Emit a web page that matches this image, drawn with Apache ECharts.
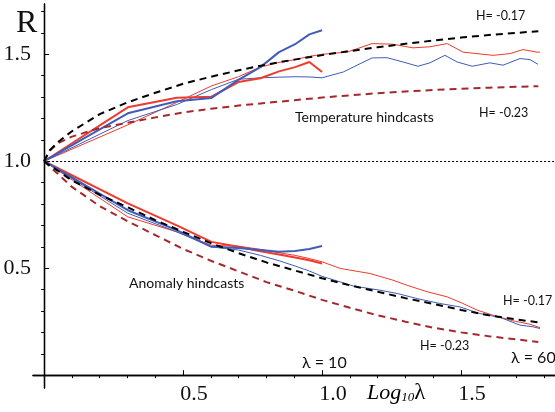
<!DOCTYPE html>
<html>
<head>
<meta charset="utf-8">
<script src="https://cdn.jsdelivr.net/npm/echarts@6/dist/echarts.min.js"></script>
<style>
  html, body { margin: 0; padding: 0; background: #fff; }
  #chart { width: 555px; height: 412px; }
</style>
</head>
<body>
<div id="chart"></div>
<script>
// ticks
var xMajorTicks = [0.5, 1.0, 1.5]
var xMinorTicks = [0.1, 0.2, 0.3, 0.4, 0.6, 0.7, 0.8, 0.9, 1.1, 1.2, 1.3, 1.4, 1.6, 1.7, 1.8]
var yMajorTicks = [0.5, 1.0, 1.5]
var yMinorTicks = [0.1, 0.2, 0.3, 0.4, 0.6, 0.7, 0.8, 0.9, 1.1, 1.2, 1.3, 1.4, 1.6, 1.7]

// lambda = 1..10 (short runs)
var lambdaShort = [1, 2, 3, 4, 5, 6, 7, 8, 9, 10]
var tempThickBlue = [1.0, 1.224, 1.28, 1.296, 1.38, 1.44, 1.51, 1.547, 1.593, 1.612]
var tempThickRed = [1.0, 1.252, 1.297, 1.302, 1.37, 1.388, 1.42, 1.44, 1.464, 1.417]
var anomThickBlue = [1.0, 0.771, 0.678, 0.60, 0.594, 0.585, 0.577, 0.58, 0.59, 0.604]
var anomThickRed = [1.0, 0.803, 0.70, 0.623, 0.60, 0.579, 0.564, 0.55, 0.537, 0.522]

// long runs up to lambda = 60 (x = log10 lambda)
var tempRedX = [0, 0.301, 0.477, 0.602, 0.699, 0.778, 0.845, 0.903, 0.954, 1.0, 1.09, 1.18, 1.255, 1.327, 1.388, 1.45, 1.507, 1.558, 1.615, 1.676, 1.723, 1.773, 1.784]
var tempThinRed = [1.0, 1.17, 1.275, 1.352, 1.395, 1.44, 1.462, 1.475, 1.49, 1.50, 1.51, 1.55, 1.547, 1.53, 1.535, 1.55, 1.51, 1.503, 1.495, 1.503, 1.522, 1.51, 1.51]
var tempBlueX = [0, 0.301, 0.477, 0.602, 0.699, 0.778, 0.845, 0.903, 0.954, 1.0, 1.076, 1.137, 1.18, 1.234, 1.291, 1.345, 1.388, 1.442, 1.486, 1.54, 1.604, 1.651, 1.712, 1.748, 1.777]
var tempThinBlue = [1.0, 1.19, 1.265, 1.335, 1.383, 1.39, 1.393, 1.395, 1.394, 1.39, 1.417, 1.456, 1.483, 1.484, 1.464, 1.444, 1.46, 1.495, 1.464, 1.444, 1.46, 1.449, 1.48, 1.475, 1.453]
var anomRedX = [0, 0.301, 0.477, 0.602, 0.699, 0.778, 0.845, 0.903, 0.954, 1.0, 1.065, 1.173, 1.255, 1.306, 1.378, 1.45, 1.507, 1.558, 1.615, 1.687, 1.748, 1.784]
var anomThinRed = [1.0, 0.74, 0.67, 0.607, 0.603, 0.588, 0.572, 0.56, 0.545, 0.53, 0.499, 0.475, 0.444, 0.42, 0.39, 0.366, 0.335, 0.304, 0.28, 0.254, 0.238, 0.222]
var anomBlueX = [0, 0.301, 0.477, 0.602, 0.699, 0.778, 0.845, 0.903, 0.954, 1.0, 1.065, 1.112, 1.209, 1.27, 1.342, 1.424, 1.496, 1.568, 1.64, 1.712, 1.759, 1.784]
var anomThinBlue = [1.0, 0.757, 0.67, 0.60, 0.585, 0.56, 0.535, 0.51, 0.487, 0.462, 0.436, 0.417, 0.397, 0.382, 0.358, 0.335, 0.319, 0.288, 0.27, 0.234, 0.226, 0.218]

// model curves H = -0.17 / -0.23
var dashX = [0, 0.02, 0.05, 0.1, 0.2, 0.3, 0.4, 0.5, 0.6, 0.7, 0.8, 0.9, 1.0, 1.1, 1.2, 1.3, 1.4, 1.5, 1.6, 1.7, 1.778]
var tempH017 = [1.0, 1.05, 1.09, 1.14, 1.22, 1.275, 1.32, 1.362, 1.395, 1.425, 1.452, 1.475, 1.496, 1.515, 1.533, 1.549, 1.564, 1.578, 1.59, 1.60, 1.608]
var tempH023 = [1.0, 1.05, 1.085, 1.115, 1.155, 1.18, 1.205, 1.228, 1.245, 1.26, 1.273, 1.285, 1.298, 1.308, 1.318, 1.326, 1.333, 1.339, 1.344, 1.348, 1.351]
var anomH017 = [1.0, 0.98, 0.955, 0.91, 0.843, 0.785, 0.725, 0.67, 0.617, 0.57, 0.527, 0.49, 0.453, 0.42, 0.39, 0.36, 0.333, 0.305, 0.28, 0.26, 0.247]
var anomH023 = [1.0, 0.975, 0.94, 0.88, 0.79, 0.72, 0.655, 0.59, 0.535, 0.485, 0.435, 0.395, 0.352, 0.315, 0.28, 0.25, 0.222, 0.2, 0.182, 0.167, 0.155]

var RED = '#f03a2c'
var BLUE = '#3f5db8'
var DARKRED = '#a32a2c'

function pairs (xs, ys) {
  return xs.map(function (x, i) { return [x, ys[i]] })
}
function shortPairs (ys) {
  return lambdaShort.map(function (l, i) { return [Math.log10(l), ys[i]] })
}
function line (data, color, width, dash) {
  return {
    type: 'line',
    data: data,
    showSymbol: false,
    symbol: 'none',
    xAxisIndex: 0,
    yAxisIndex: 0,
    lineStyle: { color: color, width: width, type: dash || 'solid' },
    silent: true,
    z: dash ? 3 : 2
  }
}

var serif = 'Liberation Serif'
var sans = 'Lato'

var chart = echarts.init(document.getElementById('chart'))
chart.setOption({
  animation: false,
  backgroundColor: '#fff',
  grid: { left: 33, right: 0, top: 4, bottom: 24, containLabel: false, outerBoundsMode: 'none' },
  xAxis: [{
    type: 'value', min: -0.04, max: 1.838,
    axisLine: { onZero: true, onZeroAxisIndex: 0, lineStyle: { color: '#000', width: 1.3 } },
    axisTick: { inside: true, length: 5, customValues: xMajorTicks, lineStyle: { color: '#000', width: 1 } },
    axisLabel: {
      customValues: xMajorTicks, fontFamily: serif, fontSize: 22, color: '#111', margin: -5,
      padding: [0, 0, 0, 22],
      formatter: function (v) { return v.toFixed(1) }
    },
    splitLine: { show: false }
  }, {
    type: 'value', min: -0.04, max: 1.838,
    axisLine: { onZero: true, onZeroAxisIndex: 0, lineStyle: { color: '#000', width: 1.3 } },
    axisTick: { inside: true, length: 3, customValues: xMinorTicks, lineStyle: { color: '#000', width: 1 } },
    axisLabel: { show: false },
    splitLine: { show: false }
  }],
  yAxis: [{
    type: 'value', min: -0.06, max: 1.735,
    axisLine: { onZero: true, onZeroAxisIndex: 0, lineStyle: { color: '#000', width: 1.3 } },
    axisTick: { inside: true, length: 5, customValues: yMajorTicks, lineStyle: { color: '#000', width: 1 } },
    axisLabel: {
      customValues: yMajorTicks, fontFamily: serif, fontSize: 22, color: '#111', margin: 2,
      formatter: function (v) { return v.toFixed(1) }
    },
    splitLine: { show: false }
  }, {
    type: 'value', min: -0.06, max: 1.735,
    axisLine: { onZero: true, onZeroAxisIndex: 0, lineStyle: { color: '#000', width: 1.3 } },
    axisTick: { inside: true, length: 3, customValues: yMinorTicks, lineStyle: { color: '#000', width: 1 } },
    axisLabel: { show: false },
    splitLine: { show: false }
  }],
  series: [
    // temperature hindcasts
    line(pairs(tempRedX, tempThinRed), RED, 1),
    line(pairs(tempBlueX, tempThinBlue), BLUE, 1),
    line(shortPairs(tempThickRed), RED, 2),
    line(shortPairs(tempThickBlue), BLUE, 2),
    // anomaly hindcasts
    line(pairs(anomRedX, anomThinRed), RED, 1),
    line(pairs(anomBlueX, anomThinBlue), BLUE, 1),
    line(shortPairs(anomThickRed), RED, 2),
    line(shortPairs(anomThickBlue), BLUE, 2),
    // model curves
    line(pairs(dashX, tempH023), DARKRED, 2, [7, 5]),
    line(pairs(dashX, anomH023), DARKRED, 2, [7, 5]),
    line(pairs(dashX, anomH017), '#000', 2, [7, 5]),
    Object.assign(line(pairs(dashX, tempH017), '#000', 2, [7, 5]), {
      markLine: {
        silent: true, symbol: 'none', label: { show: false },
        lineStyle: { color: '#000', width: 1, type: [2, 2] },
        data: [[{ coord: [0, 1] }, { coord: [1.838, 1] }]]
      }
    })
  ],
  graphic: [
    { type: 'text', left: 16, top: 8, style: { text: 'R', font: '32px ' + serif, fill: '#111' } },
    { type: 'text', x: 476, y: 16, style: { text: 'H= -0.17', font: '12.5px ' + sans, fill: '#111', verticalAlign: 'middle' } },
    { type: 'text', x: 295, y: 117, style: { text: 'Temperature hindcasts', font: '14px ' + sans, fill: '#111', verticalAlign: 'middle' } },
    { type: 'text', x: 479, y: 113, style: { text: 'H= -0.23', font: '12.5px ' + sans, fill: '#111', verticalAlign: 'middle' } },
    { type: 'text', x: 129, y: 283, style: { text: 'Anomaly hindcasts', font: '14px ' + sans, fill: '#111', verticalAlign: 'middle' } },
    { type: 'text', x: 503, y: 301, style: { text: 'H= -0.17', font: '12.5px ' + sans, fill: '#111', verticalAlign: 'middle' } },
    { type: 'text', x: 420, y: 346, style: { text: 'H= -0.23', font: '12.5px ' + sans, fill: '#111', verticalAlign: 'middle' } },
    { type: 'text', x: 302, y: 363, style: { text: 'λ = 10', font: '16px ' + sans, fill: '#111', verticalAlign: 'middle' } },
    { type: 'text', x: 511, y: 358, style: { text: 'λ = 60', font: '16px ' + sans, fill: '#111', verticalAlign: 'middle' } },
    {
      type: 'text', x: 367, y: 393,
      style: {
        text: '{a|Log}{b|10}{c|λ}',
        verticalAlign: 'middle',
        rich: {
          a: { fontFamily: serif, fontStyle: 'italic', fontSize: 22, color: '#111' },
          b: { fontFamily: serif, fontStyle: 'italic', fontSize: 13, color: '#111', padding: [10, 0, 0, 0] },
          c: { fontFamily: serif, fontSize: 23, color: '#111' }
        }
      }
    }
  ]
})
</script>
</body>
</html>
